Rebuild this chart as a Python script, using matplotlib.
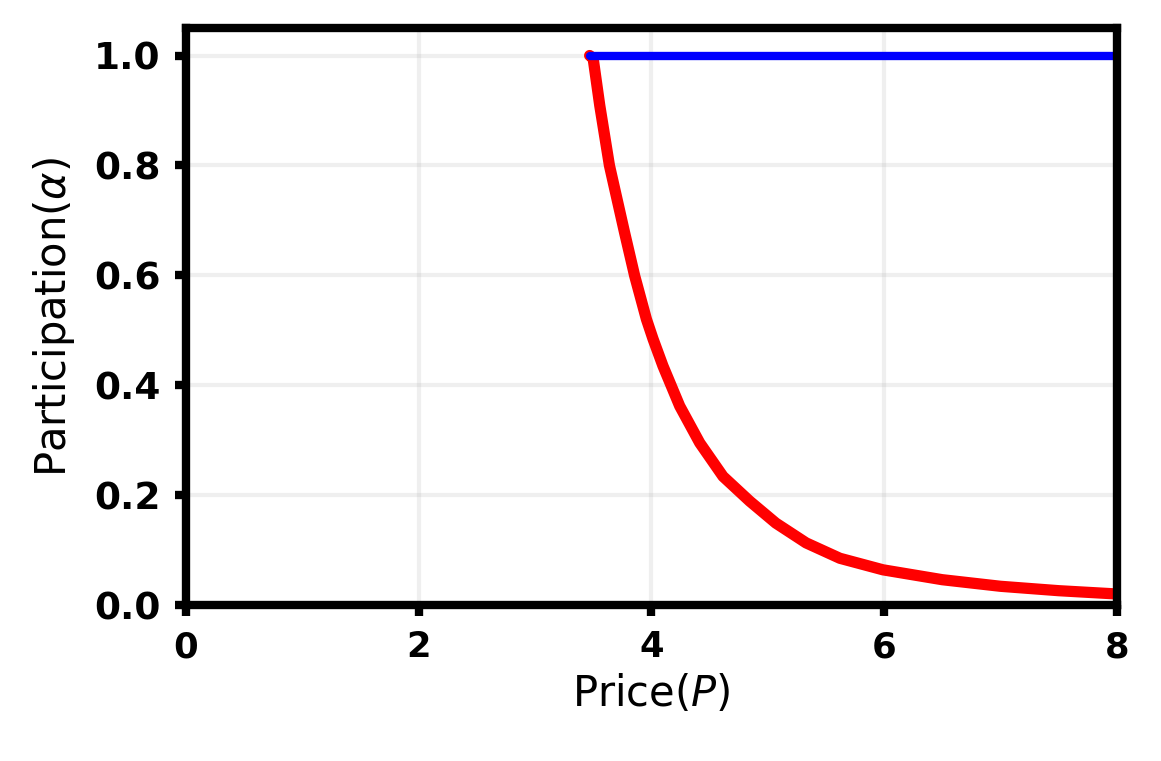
import matplotlib
matplotlib.use("Agg")
import matplotlib.pyplot as plt

# values
price_red = [3.47, 3.50, 3.557, 3.64, 3.77, 3.857, 3.958, 4.015, 4.10, 4.244,
             4.416, 4.616, 4.845, 5.07, 5.33, 5.62, 5.99, 6.50, 7.00, 7.50, 8.00]
alpha_red = [1.0, 0.995, 0.909, 0.80, 0.678, 0.599, 0.520, 0.484, 0.435, 0.362,
             0.295, 0.234, 0.189, 0.149, 0.113, 0.085, 0.064, 0.046, 0.034, 0.026, 0.020]
price_blue = [3.47, 8.0]
alpha_blue = [1.0, 1.0]

xticks = [0, 2, 4, 6, 8]
yticks = [0.0, 0.2, 0.4, 0.6, 0.8, 1.0]

fig = plt.figure(figsize=(3.87, 2.537), dpi=300)
ax = fig.add_axes([0.160, 0.205, 0.802, 0.758])

ax.plot(price_red, alpha_red, color="red", lw=2.7, solid_capstyle="round", solid_joinstyle="round")
ax.plot(price_blue, alpha_blue, color="blue", lw=2.0, solid_capstyle="round")

ax.set_xlim(0, 8)
ax.set_ylim(0, 1.05)
ax.set_xticks(xticks)
ax.set_yticks(yticks)
ax.set_xticklabels([str(t) for t in xticks], fontweight="bold", fontsize=8.5)
ax.set_yticklabels(["%.1f" % t for t in yticks], fontweight="bold", fontsize=9)
ax.tick_params(width=2, length=2.6, pad=3.5)
for s in ax.spines.values():
    s.set_linewidth(2)

ax.grid(True, color="#b0b0b0", alpha=0.2, lw=1)
ax.set_axisbelow(True)

ax.set_xlabel(r"Price($P$)", fontsize=10, labelpad=2)
ax.set_ylabel(r"Participation($\alpha$)", fontsize=10, labelpad=4)

fig.savefig("out.png", dpi=300)
